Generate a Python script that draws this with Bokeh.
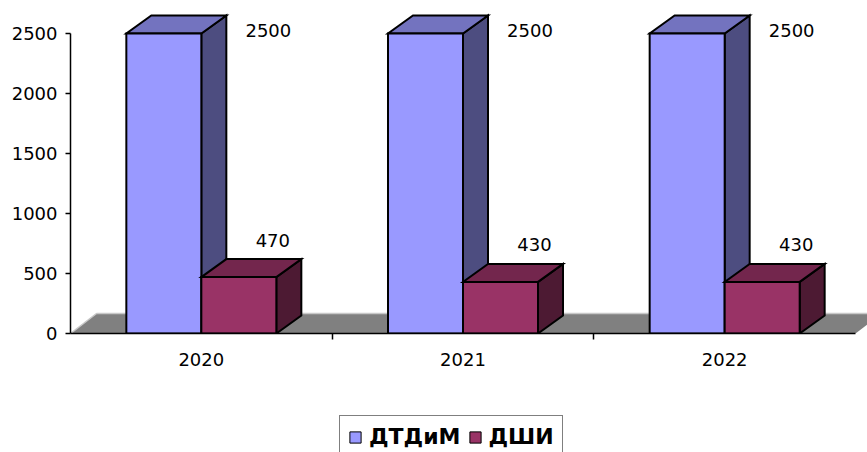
from bokeh.plotting import figure
from bokeh.layouts import column
from bokeh.models import Range1d, FixedTicker, Legend, LegendItem
from bokeh.core.properties import value
from bokeh.embed import file_html
from bokeh.resources import INLINE

# ---- data ----
years = ["2020", "2021", "2022"]
dtdim = [2500, 2500, 2500]
dshi = [470, 430, 430]
series_names = ["ДТДиМ", "ДШИ"]
y_ticks = [0, 500, 1000, 1500, 2000, 2500]

# ---- layout constants ----
W = 867
H1, H2 = 405, 47
BL = 70
FRAME_H = 333
BB = H1 - FRAME_H
frame_w = W - BL
n = len(years)
px_x = 785.0 / n                 # pixels per category
px_y = 300.0 / max(y_ticks)      # pixels per unit
x_end = frame_w / px_x
y_end = FRAME_H / px_y

BAR_W = 75.0 / px_x
DX = 25.0 / px_x
DY = 18.0 / px_y
FDX = 26.0 / px_x
FDY = 20.0 / px_y

p = figure(width=W, height=H1, output_backend="svg", toolbar_location=None,
           x_range=Range1d(0, x_end), y_range=Range1d(0, y_end),
           min_border_left=BL, min_border_right=0, min_border_top=0,
           min_border_bottom=BB)
p.outline_line_color = None
p.grid.visible = False
p.background_fill_color = "white"
p.border_fill_color = "white"

# floor
p.patch([0, n, n + FDX, FDX], [0, 0, FDY, FDY], fill_color="#808080", line_color=None)
p.multi_line([[0, FDX], [FDX, n + FDX]], [[0, FDY], [FDY, FDY]],
             line_color="#c8c8c8", line_width=1.5)


def box3d(lefts, rights, tops, front, top_c, side_c):
    side_xs = [[r, r + DX, r + DX, r] for r in rights]
    side_ys = [[0, DY, t + DY, t] for t in tops]
    top_xs = [[l, r, r + DX, l + DX] for l, r in zip(lefts, rights)]
    top_ys = [[t, t, t + DY, t + DY] for t in tops]
    p.patches(side_xs, side_ys, fill_color=side_c, line_color="black", line_width=2,
              line_join="miter")
    p.patches(top_xs, top_ys, fill_color=top_c, line_color="black", line_width=2,
              line_join="miter")
    return p.quad(left=lefts, right=rights, bottom=0, top=tops, fill_color=front,
                  line_color="black", line_width=2, line_join="miter")


colors_front = ["#9999ff", "#993366"]
centers = [i + 0.5 for i in range(n)]
box3d([c - BAR_W for c in centers], centers, dtdim,
      colors_front[0], "#7373bf", "#4d4d80")
box3d(centers, [c + BAR_W for c in centers], dshi,
      colors_front[1], "#73264d", "#4d1a33")

# data labels
p.text(x=centers, y=dtdim, text=[str(v) for v in dtdim], x_offset=67, y_offset=-3,
       text_align="center", text_baseline="middle", text_font=value("DejaVu Sans"),
       text_font_size="18px", text_color="black")
p.text(x=[c + BAR_W / 2 for c in centers], y=dshi, text=[str(v) for v in dshi],
       x_offset=34, y_offset=-37, text_align="center", text_baseline="middle",
       text_font=value("DejaVu Sans"), text_font_size="18px", text_color="black")

# y axis
ya = p.yaxis[0]
ya.ticker = FixedTicker(ticks=y_ticks)
ya.bounds = (0, max(y_ticks))
ya.major_tick_out = 5
ya.major_tick_in = 0
ya.minor_tick_out = 0
ya.minor_tick_in = 0
ya.axis_line_width = 1.5
ya.major_tick_line_width = 1.5
ya.major_label_text_font = "DejaVu Sans"
ya.major_label_text_font_size = "18px"
ya.major_label_text_color = "black"
ya.major_label_standoff = 8

# x axis
xa = p.xaxis[0]
xa.ticker = FixedTicker(ticks=centers, minor_ticks=list(range(1, n)))
xa.major_label_overrides = {c: y for c, y in zip(centers, years)}
xa.bounds = (0, n)
xa.major_tick_out = 0
xa.major_tick_in = 0
xa.minor_tick_out = 6
xa.minor_tick_in = 0
xa.minor_tick_line_width = 1.5
xa.axis_line_width = 1.5
xa.major_label_text_font = "DejaVu Sans"
xa.major_label_text_font_size = "18px"
xa.major_label_text_color = "black"
xa.major_label_standoff = 13

# ---- legend strip (frame is aligned with the main plot's frame) ----
p2 = figure(width=W, height=H2, output_backend="svg", toolbar_location=None,
            x_range=Range1d(0, 1), y_range=Range1d(0, 1),
            x_axis_type=None, y_axis_type=None,
            min_border_left=BL, min_border_right=0, min_border_top=0,
            min_border_bottom=0)
p2.outline_line_color = None
p2.grid.visible = False
p2.background_fill_color = "white"
p2.border_fill_color = "white"
lg_r = [p2.quad(left=[-5], right=[-4], top=[-4], bottom=[-5], fill_color=c,
                line_color="black", line_width=1) for c in colors_front]

legend = Legend(items=[LegendItem(label=s, renderers=[r])
                       for s, r in zip(series_names, lg_r)],
                location=(339 - BL, -6), orientation="horizontal")
legend.border_line_color = "black"
legend.border_line_width = 1.5
legend.background_fill_color = "white"
legend.background_fill_alpha = 1
legend.label_text_font = "DejaVu Sans"
legend.label_text_font_style = "bold"
legend.label_text_font_size = "22px"
legend.label_text_color = "black"
legend.glyph_width = 14
legend.glyph_height = 14
legend.label_standoff = 7
legend.spacing = 7
legend.padding = 8
legend.margin = 0
p2.add_layout(legend)

open("out.html", "w").write(file_html(column(p, p2, spacing=0), INLINE))
